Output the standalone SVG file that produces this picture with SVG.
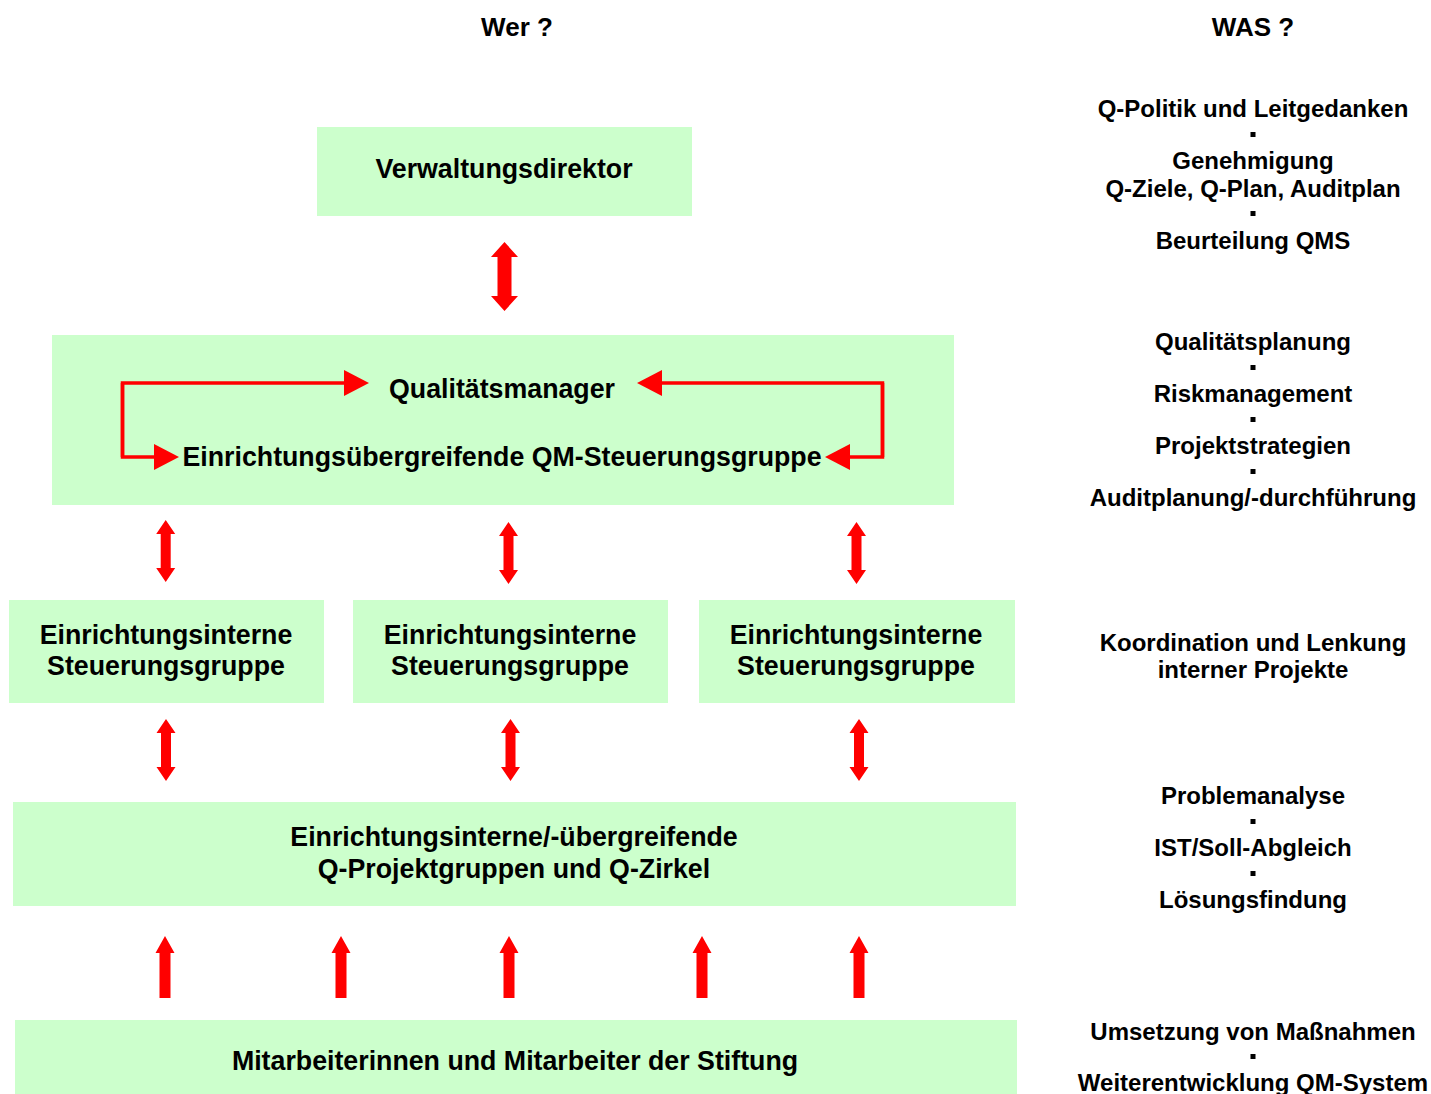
<svg xmlns="http://www.w3.org/2000/svg" width="1431" height="1094" viewBox="0 0 1431 1094">
<style>
.box{fill:#CCFFCC}
.t{font-family:"Liberation Sans",Arial,sans-serif;font-weight:bold;font-size:26.75px;fill:#000;text-anchor:middle}
.h{font-size:26px}
.r{font-family:"Liberation Sans",Arial,sans-serif;font-weight:bold;font-size:24px;fill:#000;text-anchor:middle}
.bul{fill:#000}
.arr{fill:#FF0000}
.ln{fill:none;stroke:#FF0000;stroke-width:3.5}
</style>
<defs>
<path id="dblBig" d="M0,0 L13.5,15 L7,15 L7,54 L13.5,54 L0,69 L-13.5,54 L-7,54 L-7,15 L-13.5,15 Z"/>
<path id="dbl" d="M0,0 L9.5,14 L5,14 L5,48 L9.5,48 L0,62 L-9.5,48 L-5,48 L-5,14 L-9.5,14 Z"/>
<path id="up" d="M0,0 L9.5,17 L5.5,17 L5.5,62 L-5.5,62 L-5.5,17 L-9.5,17 Z"/>
<marker id="head" markerUnits="userSpaceOnUse" markerWidth="26" markerHeight="26" viewBox="0 0 25 26" refX="1" refY="13" orient="auto">
<path d="M0,0 L25,13 L0,26 Z" fill="#FF0000"/>
</marker>
</defs>

<text class="t h" x="517" y="36">Wer ?</text>
<text class="t h" x="1253" y="36">WAS ?</text>

<g id="verwaltungsdirektor">
<rect class="box" x="317" y="127" width="375" height="89"/>
<text class="t" x="504" y="178">Verwaltungsdirektor</text>
</g>

<g id="qualitaetsmanager">
<rect class="box" x="52" y="335" width="902" height="170"/>
<text class="t" x="502" y="398">Qualitätsmanager</text>
<text class="t" x="502" y="466">Einrichtungsübergreifende QM-Steuerungsgruppe</text>
</g>

<g id="steuerungsgruppe1">
<rect class="box" x="9" y="600" width="315" height="103"/>
<text class="t" x="166" y="644">Einrichtungsinterne</text>
<text class="t" x="166" y="675">Steuerungsgruppe</text>
</g>
<g id="steuerungsgruppe2">
<rect class="box" x="353" y="600" width="315" height="103"/>
<text class="t" x="510" y="644">Einrichtungsinterne</text>
<text class="t" x="510" y="675">Steuerungsgruppe</text>
</g>
<g id="steuerungsgruppe3">
<rect class="box" x="699" y="600" width="316" height="103"/>
<text class="t" x="856" y="644">Einrichtungsinterne</text>
<text class="t" x="856" y="675">Steuerungsgruppe</text>
</g>

<g id="projektgruppen">
<rect class="box" x="13" y="802" width="1003" height="104"/>
<text class="t" x="514" y="846">Einrichtungsinterne/-übergreifende</text>
<text class="t" x="514" y="878">Q-Projektgruppen und Q-Zirkel</text>
</g>

<g id="mitarbeiter">
<rect class="box" x="15" y="1020" width="1002" height="74"/>
<text class="t" x="515" y="1070">Mitarbeiterinnen und Mitarbeiter der Stiftung</text>
</g>

<g id="connectors">
<use href="#dblBig" class="arr" x="504.5" y="242"/>
<path class="ln" d="M122.5,457 L122.5,383 L345,383" marker-end="url(#head)"/>
<path class="ln" d="M122.5,383 L122.5,457 L155,457" marker-end="url(#head)"/>
<path class="ln" d="M882.5,457 L882.5,383 L661,383" marker-end="url(#head)"/>
<path class="ln" d="M882.5,383 L882.5,457 L849,457" marker-end="url(#head)"/>
<use href="#dbl" class="arr" x="165.7" y="520"/>
<use href="#dbl" class="arr" x="508.5" y="522"/>
<use href="#dbl" class="arr" x="856.5" y="522"/>
<use href="#dbl" class="arr" x="166" y="719"/>
<use href="#dbl" class="arr" x="510.5" y="719"/>
<use href="#dbl" class="arr" x="859" y="719"/>
<use href="#up" class="arr" x="165" y="936"/>
<use href="#up" class="arr" x="341" y="936"/>
<use href="#up" class="arr" x="509" y="936"/>
<use href="#up" class="arr" x="702" y="936"/>
<use href="#up" class="arr" x="859" y="936"/>
</g>

<g id="was">
<text class="r" x="1253" y="117">Q-Politik und Leitgedanken</text>
<rect class="bul" x="1250.5" y="132" width="5" height="5"/>
<text class="r" x="1253" y="169">Genehmigung</text>
<text class="r" x="1253" y="197">Q-Ziele, Q-Plan, Auditplan</text>
<rect class="bul" x="1250.5" y="211" width="5" height="5"/>
<text class="r" x="1253" y="249">Beurteilung QMS</text>

<text class="r" x="1253" y="350">Qualitätsplanung</text>
<rect class="bul" x="1250.5" y="365" width="5" height="5"/>
<text class="r" x="1253" y="402">Riskmanagement</text>
<rect class="bul" x="1250.5" y="417" width="5" height="5"/>
<text class="r" x="1253" y="454">Projektstrategien</text>
<rect class="bul" x="1250.5" y="469" width="5" height="5"/>
<text class="r" x="1253" y="506">Auditplanung/-durchführung</text>

<text class="r" x="1253" y="651">Koordination und Lenkung</text>
<text class="r" x="1253" y="678">interner Projekte</text>

<text class="r" x="1253" y="804">Problemanalyse</text>
<rect class="bul" x="1250.5" y="819" width="5" height="5"/>
<text class="r" x="1253" y="856">IST/Soll-Abgleich</text>
<rect class="bul" x="1250.5" y="871" width="5" height="5"/>
<text class="r" x="1253" y="908">Lösungsfindung</text>

<text class="r" x="1253" y="1040">Umsetzung von Maßnahmen</text>
<rect class="bul" x="1250.5" y="1054" width="5" height="5"/>
<text class="r" x="1253" y="1091">Weiterentwicklung QM-System</text>
</g>
</svg>
